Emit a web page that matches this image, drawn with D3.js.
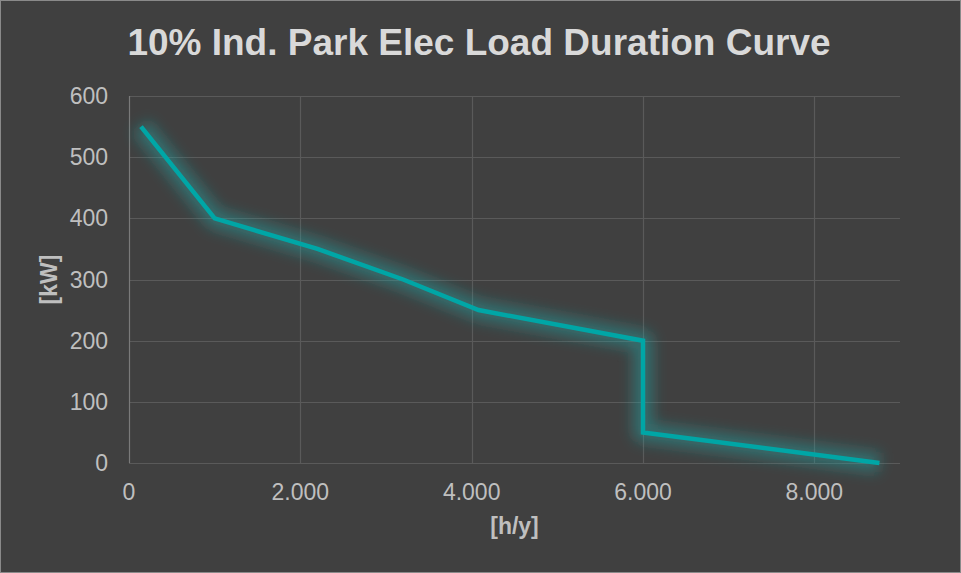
<!DOCTYPE html>
<html>
<head>
<meta charset="utf-8">
<script src="https://cdn.jsdelivr.net/npm/d3@7"></script>
<style>
  html, body { margin: 0; padding: 0; background: #404040; }
  svg { display: block; }
</style>
</head>
<body>
<svg id="chart" width="961" height="573"></svg>
<script>
// Load duration curve: hours per year vs. electric load
const hours = [140, 1000, 2200, 3200, 4080, 6000, 6000, 8760];
const loadKW = [550, 400, 350, 300, 250, 200, 50, 0];
const xTicks = [0, 2000, 4000, 6000, 8000];
const yTicks = [0, 100, 200, 300, 400, 500, 600];

const W = 961, H = 573;
const margin = { left: 129, right: 61, top: 96, bottom: 110 };
const FONT = "Liberation Sans, Arial, sans-serif";

const svg = d3.select("#chart");

// Background with thin frame
svg.append("rect").attr("x", 0.5).attr("y", 0.5).attr("width", W - 1).attr("height", H - 1)
  .attr("fill", "#404040").attr("stroke", "#8a8a8a").attr("stroke-width", 1);

const locale = d3.formatLocale({ decimal: ",", thousands: ".", grouping: [3], currency: ["", "€"] });
const fmt = locale.format(",d");

const x = d3.scaleLinear().domain([0, 9000]).range([margin.left, W - margin.right]);
const y = d3.scaleLinear().domain([0, 600]).range([H - margin.bottom, margin.top]);

// Soft glow behind the series line
const defs = svg.append("defs");
const glow = defs.append("filter").attr("id", "glow")
  .attr("x", "-20%").attr("y", "-20%").attr("width", "140%").attr("height", "140%");
glow.append("feGaussianBlur").attr("stdDeviation", 7);

// Horizontal gridlines
svg.append("g").selectAll("line").data(yTicks).join("line")
  .attr("x1", x(0)).attr("x2", x(9000))
  .attr("y1", d => Math.round(y(d)) + 0.5).attr("y2", d => Math.round(y(d)) + 0.5)
  .attr("stroke", "#5a5a5a").attr("stroke-width", 1.2);

// Vertical gridlines
svg.append("g").selectAll("line").data(xTicks.filter(d => d > 0)).join("line")
  .attr("x1", d => Math.round(x(d)) + 0.5).attr("x2", d => Math.round(x(d)) + 0.5)
  .attr("y1", y(600)).attr("y2", y(0))
  .attr("stroke", "#5a5a5a").attr("stroke-width", 1.2);

// Left axis line
svg.append("line")
  .attr("x1", x(0) + 0.5).attr("x2", x(0) + 0.5)
  .attr("y1", y(600)).attr("y2", y(0))
  .attr("stroke", "#7a7a7a").attr("stroke-width", 1.2);

// Y tick labels
svg.append("g").selectAll("text").data(yTicks).join("text")
  .attr("x", x(0) - 21).attr("y", d => y(d) + 8)
  .attr("text-anchor", "end")
  .attr("font-family", FONT).attr("font-size", 23)
  .attr("fill", "#bfbfbf").text(d => d);

// X tick labels
svg.append("g").selectAll("text").data(xTicks).join("text")
  .attr("x", d => x(d)).attr("y", 500)
  .attr("text-anchor", "middle")
  .attr("font-family", FONT).attr("font-size", 23)
  .attr("fill", "#bfbfbf").text(d => fmt(d));

// Series
const pts = hours.map((h, i) => [h, loadKW[i]]);
const line = d3.line().x(d => x(d[0])).y(d => y(d[1]));

svg.append("path").datum(pts).attr("d", line)
  .attr("fill", "none").attr("stroke", "#1fa3a3").attr("stroke-opacity", 0.45)
  .attr("stroke-width", 20).attr("stroke-linejoin", "round")
  .attr("filter", "url(#glow)");

svg.append("path").datum(pts).attr("d", line)
  .attr("fill", "none").attr("stroke", "#00a6a6")
  .attr("stroke-width", 4.5).attr("stroke-linejoin", "miter");

// Title
svg.append("text")
  .attr("x", 479).attr("y", 55).attr("text-anchor", "middle")
  .attr("font-family", FONT).attr("font-weight", "bold")
  .attr("font-size", 37).attr("fill", "#d9d9d9")
  .text("10% Ind. Park Elec Load Duration Curve");

// Axis titles
svg.append("text")
  .attr("x", (x(0) + x(9000)) / 2).attr("y", 534).attr("text-anchor", "middle")
  .attr("font-family", FONT).attr("font-weight", "bold")
  .attr("font-size", 23).attr("fill", "#bfbfbf").text("[h/y]");

svg.append("text")
  .attr("transform", `translate(57, ${(y(0) + y(600)) / 2}) rotate(-90)`)
  .attr("text-anchor", "middle")
  .attr("font-family", FONT).attr("font-weight", "bold")
  .attr("font-size", 23).attr("fill", "#bfbfbf").text("[kW]");
</script>
</body>
</html>
